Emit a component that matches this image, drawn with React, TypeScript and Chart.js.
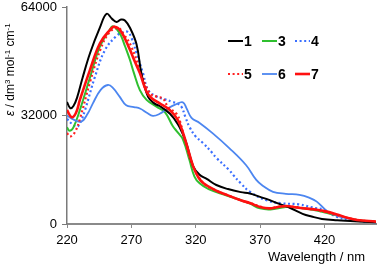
import { useEffect, useRef } from 'react';
import { Chart, registerables } from 'chart.js';
Chart.register(...registerables);

const xTicks = [220, 270, 320, 370, 420];
const yTicks = [0, 32000, 64000];
const xMin = 220;
const xMax = 460;
const seriesLabels = ['1', '3', '4', '5', '6', '7'];

const s1Wl = [220, 222.5, 225, 228, 232, 238, 245.6, 250.8, 255, 258.5, 262, 265, 269, 274, 278, 283, 288, 292, 300, 306, 310, 313, 318, 323, 328.5, 336, 345, 355, 362, 370, 377, 387, 393, 403, 410, 418, 430, 440, 460];
const s1Eps = [36000, 34200, 34800, 37500, 43000, 50500, 58000, 62000, 60500, 59600, 60300, 60000, 57800, 53000, 44000, 37500, 35500, 34800, 32500, 29500, 26500, 23500, 17000, 14500, 13300, 11500, 10300, 9400, 9000, 8000, 7100, 5600, 4800, 3000, 2200, 1500, 1100, 900, 500];

const s3Wl = [220, 222, 225, 230, 238, 245.6, 253, 255.5, 259, 262, 265, 268.8, 272, 276.6, 281.8, 289.5, 296, 302, 306, 310, 315, 319, 323, 330, 344, 355, 362, 370, 378, 390, 400, 414, 429, 445, 460];
const s3Eps = [28500, 27500, 28500, 33600, 43400, 52400, 57200, 58300, 57300, 55500, 52500, 48500, 44500, 39500, 36600, 34600, 33000, 29000, 27000, 25000, 19000, 14000, 12000, 10300, 8400, 7000, 6000, 4600, 4300, 5000, 4800, 4000, 2600, 1200, 600];

const s4Wl = [220, 224, 228, 231, 234, 241.7, 249.5, 258.5, 263, 267, 270, 274, 279, 283, 289.5, 296, 302, 306, 309, 312, 315.3, 320, 325.6, 333, 336, 346, 349, 355, 362, 375, 387, 400, 414, 419, 429, 440, 452, 460];
const s4Eps = [31000, 29500, 28700, 30500, 33600, 43400, 51300, 55500, 56500, 56700, 55000, 50400, 44500, 39500, 37600, 36800, 36000, 35500, 34500, 31500, 28500, 25800, 23900, 20900, 19500, 15900, 14500, 12000, 9500, 7000, 6100, 5800, 4600, 4300, 2200, 1200, 700, 500];

const s5Wl = [220, 222.5, 226, 230, 238, 246, 253, 259.8, 264, 270, 278, 284.3, 290, 294.6, 298.5, 305, 308, 312, 318, 326, 335, 344, 355, 362, 375, 385, 393, 405, 414, 429, 445, 460];
const s5Eps = [26800, 25800, 27000, 31000, 42000, 51500, 56500, 57800, 56000, 52300, 44000, 38600, 37500, 37000, 34500, 32500, 30000, 24000, 17000, 12000, 10000, 8600, 7000, 6200, 4700, 5100, 5200, 4600, 4100, 2700, 1200, 700];

const s6Wl = [220, 224, 231, 236, 240, 246, 251.8, 256, 261, 266, 272, 277, 282, 286.7, 292, 298, 304, 310, 313, 316.7, 323, 333, 346, 359, 367, 372, 380, 390, 400.6, 408, 414, 422, 430, 437, 448, 460];
const s6Eps = [32000, 31000, 30200, 32500, 35500, 39500, 41000, 40000, 37500, 35000, 34500, 34000, 32800, 31900, 32500, 34000, 35200, 35900, 34000, 31300, 29800, 26800, 22400, 17400, 13000, 11300, 9500, 8900, 8600, 7800, 6600, 3800, 2400, 1700, 900, 500];

const s7Wl = [220, 223.6, 227, 230, 237.8, 245.6, 253.3, 257, 262, 268.8, 272, 276.6, 281.8, 286, 292, 299.8, 306, 310, 314, 318, 322, 326, 335, 344, 355, 362, 370, 377, 384, 390, 400, 414, 420, 429, 439, 445, 460];
const s7Eps = [33600, 31500, 32800, 36600, 45400, 53300, 57200, 58200, 56800, 51500, 48500, 44500, 39000, 37000, 35600, 33600, 30700, 27000, 22000, 17000, 13800, 12000, 10000, 8600, 7000, 6200, 5000, 4600, 5000, 5300, 4800, 4200, 3800, 2900, 1700, 1200, 700];

const FONT = '"Liberation Sans", Arial, sans-serif';

function pts(wl: number[], eps: number[]) {
  return wl.map((w, i) => ({ x: w, y: eps[i] }));
}

const legendPlugin = {
  id: 'customLegend',
  afterDatasetsDraw(chart: any) {
    const ctx = chart.ctx;
    const colX = [228, 262, 295];
    const rowY = [41, 74];
    const ds = chart.data.datasets;
    ctx.save();
    ds.forEach((d: any, i: number) => {
      const col = i % 3;
      const row = Math.floor(i / 3);
      const x = colX[col];
      const y = rowY[row];
      ctx.beginPath();
      ctx.strokeStyle = d.borderColor;
      ctx.lineWidth = d.borderWidth;
      ctx.setLineDash(d.borderDash || []);
      ctx.moveTo(x, y);
      ctx.lineTo(x + 15, y);
      ctx.stroke();
      ctx.setLineDash([]);
      ctx.fillStyle = '#000';
      ctx.font = 'bold 14px ' + FONT;
      ctx.textBaseline = 'middle';
      ctx.textAlign = 'left';
      ctx.fillText(d.label, x + 16, y + 1);
    });
    ctx.restore();
  },
  afterDraw(chart: any) {
    const ctx = chart.ctx;
    ctx.save();
    ctx.fillStyle = '#000';
    ctx.font = '13px ' + FONT;
    ctx.textAlign = 'right';
    ctx.textBaseline = 'alphabetic';
    ctx.fillText('Wavelength / nm', 365, 261);
    ctx.translate(14, 116);
    ctx.rotate(-Math.PI / 2);
    ctx.textAlign = 'left';
    const runs: [string, boolean, boolean][] = [
      ['ε', true, false],
      [' / dm', false, false],
      ['3', false, true],
      [' mol', false, false],
      ['-1', false, true],
      [' cm', false, false],
      ['-1', false, true],
    ];
    let u = 0;
    for (const [t, it, sup] of runs) {
      ctx.font = (it ? 'italic ' : '') + (sup ? '8px ' : '12px ') + FONT;
      ctx.fillText(t, u, sup ? -4.5 : 0);
      u += ctx.measureText(t).width;
    }
    ctx.restore();
  },
};

export default function App() {
  const ref = useRef<HTMLCanvasElement | null>(null);
  useEffect(() => {
    if (!ref.current) return;
    const base = { pointRadius: 0, fill: false, tension: 0.4 };
    const chart = new Chart(ref.current, {
      type: 'line',
      data: {
        datasets: [
          { ...base, label: seriesLabels[0], data: pts(s1Wl, s1Eps), borderColor: '#000000', borderWidth: 2, order: 1 },
          { ...base, label: seriesLabels[1], data: pts(s3Wl, s3Eps), borderColor: '#2fbf2f', borderWidth: 2, order: 4 },
          { ...base, label: seriesLabels[2], data: pts(s4Wl, s4Eps), borderColor: '#3a6fff', borderWidth: 2.2, borderDash: [2, 2.6], order: 5 },
          { ...base, label: seriesLabels[3], data: pts(s5Wl, s5Eps), borderColor: '#ff2020', borderWidth: 2.2, borderDash: [2, 2.6], order: 2 },
          { ...base, label: seriesLabels[4], data: pts(s6Wl, s6Eps), borderColor: '#4c86f0', borderWidth: 1.8, order: 3 },
          { ...base, label: seriesLabels[5], data: pts(s7Wl, s7Eps), borderColor: '#ff1010', borderWidth: 2.6, order: 0 },
        ],
      },
      options: {
        animation: false,
        responsive: false,
        layout: { padding: { top: 7, right: 2, bottom: 0, left: 0 } },
        plugins: { legend: { display: false }, tooltip: { enabled: false } },
        scales: {
          x: {
            type: 'linear',
            min: xMin,
            max: xMax,
            afterBuildTicks: (s: any) => { s.ticks = xTicks.map((v) => ({ value: v })); },
            afterFit: (s: any) => { s.height = 42; s.paddingLeft = 0; s.paddingRight = 0; },
            grid: { drawOnChartArea: false, drawTicks: true, tickLength: 4, color: '#8a8a8a' },
            border: { color: '#8a8a8a', width: 2 },
            ticks: { color: '#000', font: { family: FONT, size: 13 }, padding: 5, maxRotation: 0 },
          },
          y: {
            type: 'linear',
            min: yTicks[0],
            max: yTicks[yTicks.length - 1],
            afterBuildTicks: (s: any) => { s.ticks = yTicks.map((v) => ({ value: v })); },
            afterFit: (s: any) => { s.width = 67; s.paddingTop = 0; s.paddingBottom = 0; },
            grid: { drawOnChartArea: false, drawTicks: true, tickLength: 5, color: '#7a7a7a' },
            border: { color: '#7a7a7a', width: 1.5 },
            ticks: { color: '#000', font: { family: FONT, size: 13 }, padding: 5, callback: (v: any) => String(v) },
          },
        },
      },
      plugins: [legendPlugin],
    });
    return () => chart.destroy();
  }, []);
  return (
    <canvas ref={ref} width={378} height={266} style={{ position: 'absolute', left: 0, top: 0, width: 378, height: 266 }} />
  );
}
